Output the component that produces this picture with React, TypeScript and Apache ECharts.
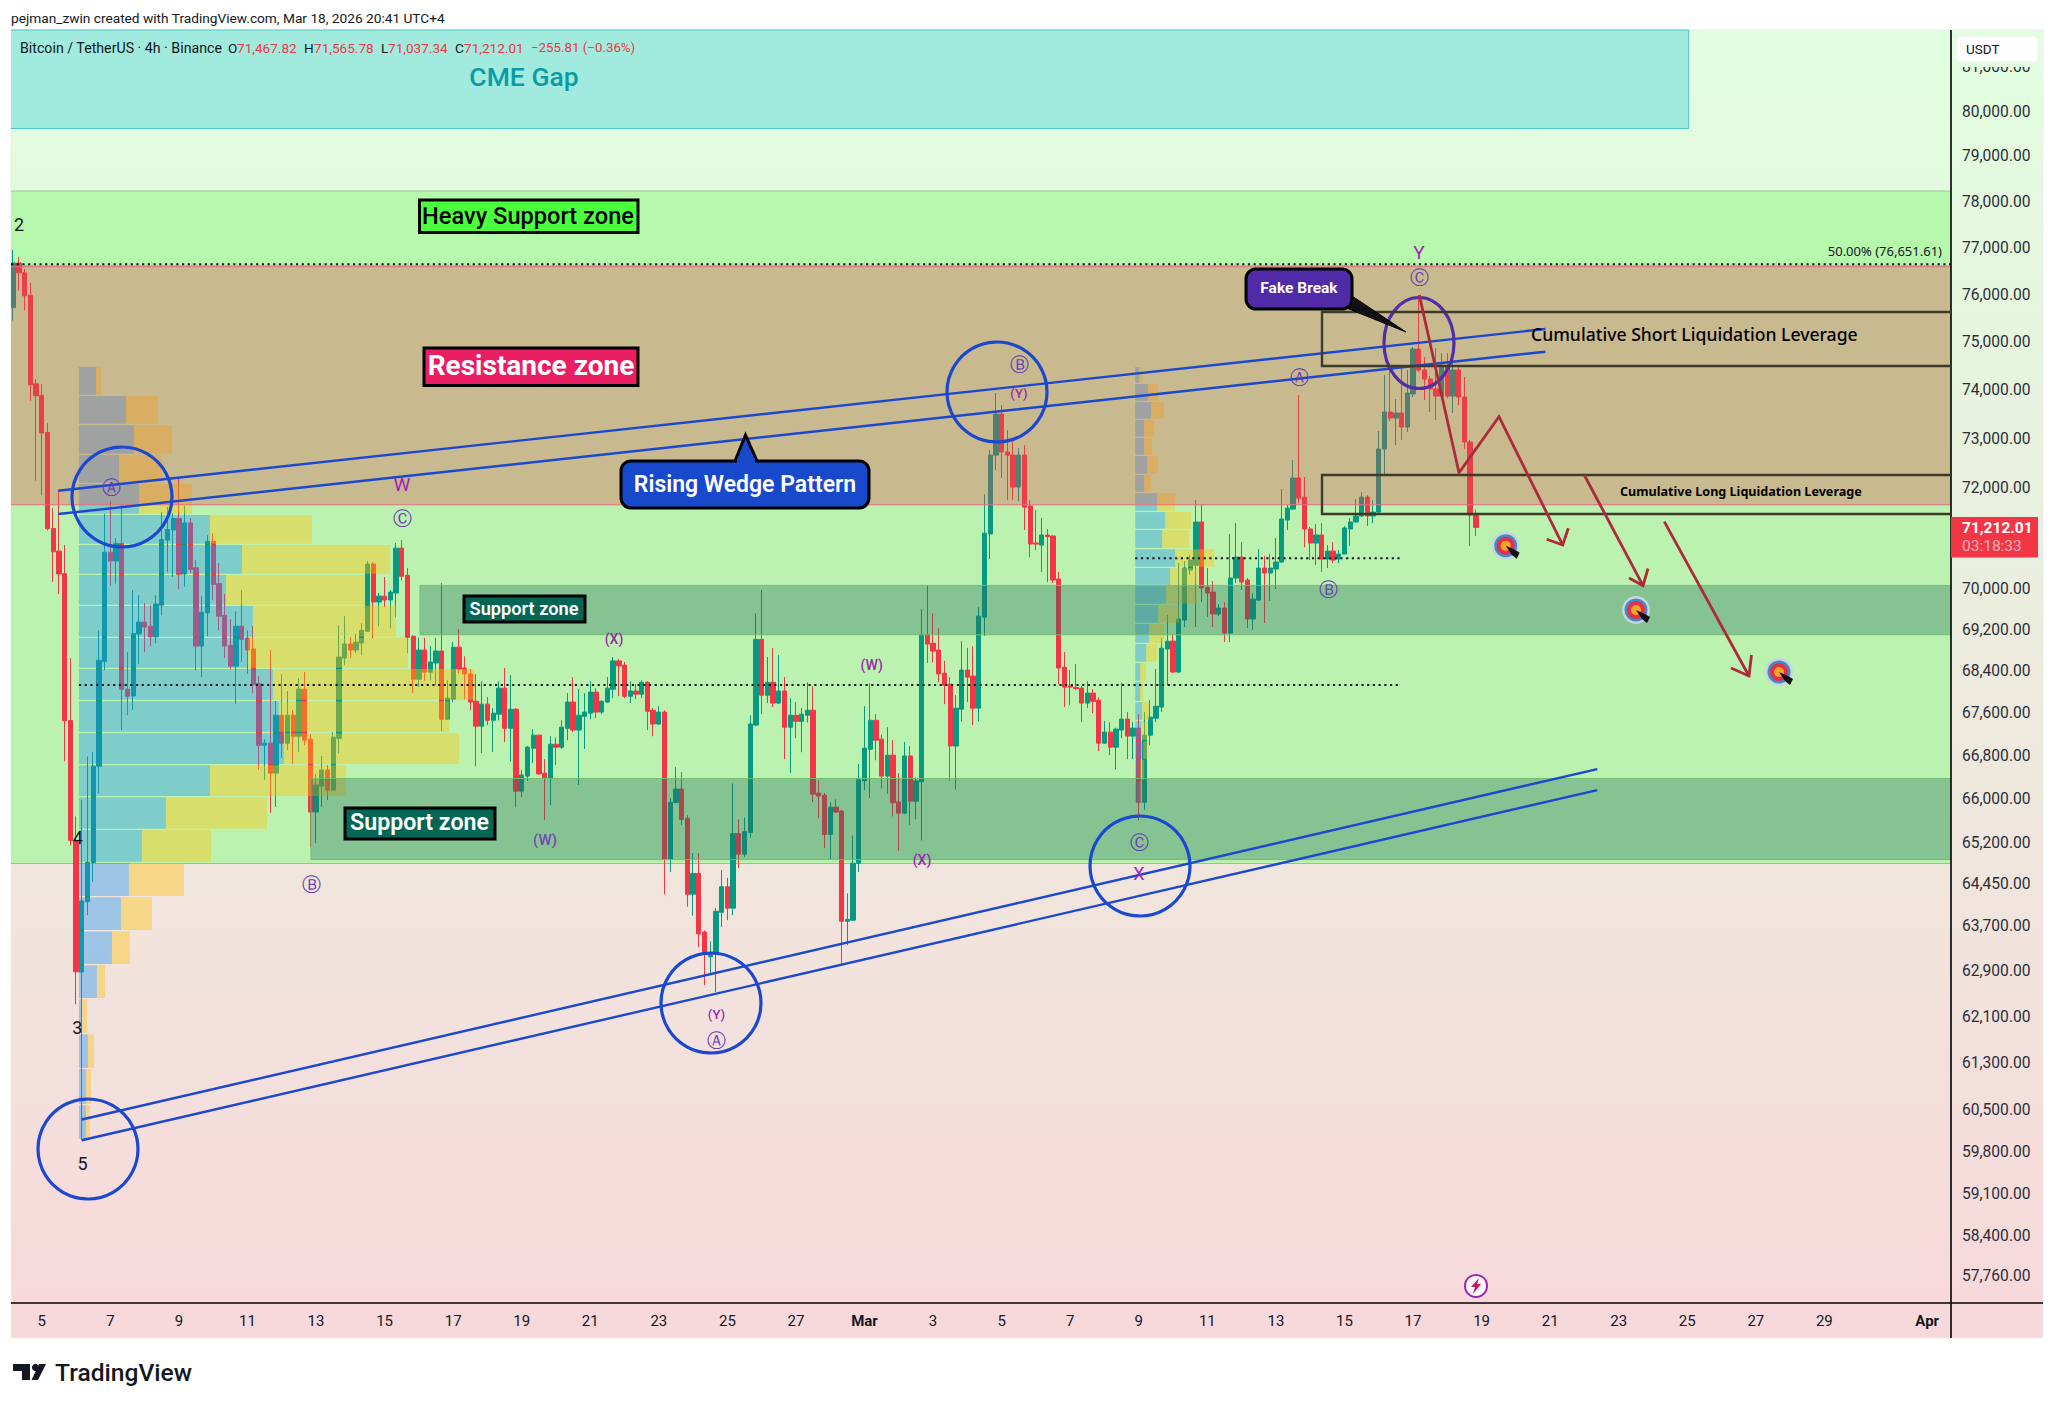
import React, { useEffect, useRef } from "react";
import * as echarts from "echarts";

// ---------- time helpers (candle time is the chart's own clock) ----------
const T = (m: number, d: number, h = 0, min = 0) => Date.UTC(2026, m - 1, d, h, min);
const FOUR_HOURS = 4 * 3600 * 1000;
const firstCandle = T(2, 4, 4);
const axisStart = T(2, 4, 2, 26);
const axisEnd = T(4, 1, 16, 39);

// ---------- candles: open, high, low, close ----------
const candlesEarlyFeb = [
[75730,76960,75450,76680],[76680,76810,76090,76470],[76470,76560,75670,75980],[75990,76260,73780,74113],[74130,74230,72148,73885],
[73890,74130,71857,73120],[73130,73320,71150,71185],[71190,71597,70137,70727],[70740,71945,69895,70290],[70295,70860,66700,67460],
[67465,68650,65150,65240],[65240,65680,62315,62884],[62880,65990,59990,64145],[64130,66790,63890,64840],[64840,66870,64490,66610],
[66610,69185,66110,68610],[68590,71480,68420,70720],[70720,71737,70060,70545],[70545,71000,70100,70890],[70890,71680,67285,68061],
[68060,68770,67565,67927],[67930,69970,67660,69125],[69120,69875,68540,69350],[69350,69720,68770,69255],[69270,69680,68880,69065],
[69065,69875,68940,69700],[69680,71520,69480,70970],[70960,71620,70330,71170],[71160,71500,70230,71390],[71390,72220,69990,70285],
[70290,71650,70040,71300],[71300,71400,70310,70380],[70410,70570,68410,68885],[68885,69855,68290,69540],[69530,71055,69080,70935],
[70935,71095,69780,70085],[70100,70505,69190,69465],[69480,69895,68655,68885],[68900,69405,68445,68500],[68500,69560,67775,69270],
[69270,69970,68580,69015],[69040,69190,68350,68810],[68830,69270,67985,68155],[68170,68310,66540,67000],[67000,67115,66355,67040],
[67040,68810,65745,66480],[66480,67835,65855,67565],[67565,68350,66760,67040],[67040,68025,66910,67565],[67565,67660,66650,67170],
[67170,68270,66870,68060],[68060,68385,67000,67095],[67115,67210,65115,65760],[65760,66465,65190,66260],[66240,66800,65855,66540],
[66540,66630,65980,66165],[66165,67245,66165,67150],[67130,69290,66850,68675],[68655,69465,68520,68925],[68925,69055,68655,68810],
[68810,69115,68750,68960],[68945,69330,68710,69190],[69170,70545,69170,70485],[70485,70525,69035,69740],[69740,69915,69270,69855],
[69855,70230,69640,69780],[69780,69975,69230,69935],[69915,70900,69445,70800],[70800,70960,70165,70245],[70265,70405,68750,69055],
[69075,69095,67985,68250],[68250,69045,68105,68810],[68810,69045,68220,68385],[68385,68885,68230,68580],[68560,69045,68135,68790],
[68790,70110,67265,67490],[67490,68230,67480,67890],[67870,68965,67815,68865],[68865,69210,68365,68445],[68465,68690,67875,68350],
[68350,68445,67660,67815],[67830,68350,66610,67360],[67360,68210,66855,67775],[67775,67910,67380,67470],[67470,67700,66875,67605],
];
const candlesLateFeb = [
[67585,68210,67470,68080],[68080,68465,67060,67320],[67320,68330,66700,67680],[67680,67700,65850,66145],[66145,66540,66035,66445],
[66425,66985,66335,66965],[66945,67305,66670,67190],[67190,67200,66450,66465],[66480,66740,65610,66390],[66390,67170,65885,67020],
[67020,67150,66630,66965],[66965,67470,66930,67340],[67320,67985,67095,67815],[67815,68290,67245,67285],[67285,68060,66260,67565],
[67545,67985,66930,67625],[67605,68210,67490,68005],[68005,68080,67510,67625],[67625,67850,67585,67830],[67815,68290,67795,68080],
[68060,68675,67890,68600],[68600,68640,67930,68505],[68520,68580,67890,67925],[67925,68210,67795,68025],[68025,68155,67870,67965],
[67965,68230,67890,68190],[68190,68210,67285,67640],[67660,67700,67170,67400],[67400,67735,67380,67625],[67625,67660,64260,64900],
[64900,66015,64665,65940],[65940,66590,65920,66185],[66185,66500,65520,65625],[65645,65700,64040,64265],[64265,65010,63880,64640],
[64640,65010,63320,63555],[63590,63620,62650,63220],[63150,63425,62820,63190],[63210,64015,62530,63960],[63940,64700,63680,64400],
[64400,64560,63800,64015],[64015,66290,63890,65365],[65365,65625,64740,64990],[64990,65660,64935,65400],[65385,67565,65290,67400],
[67380,69520,67360,69015],[69015,69975,67585,67945],[67945,68675,67795,68190],[68190,68845,67720,67795],[67795,68710,67780,68025],
[68025,68290,66740,67340],[67340,67890,66480,67565],[67565,67815,67130,67450],[67450,67700,66870,67585],[67565,68190,67430,67660],
[67660,68115,65945,66090],[66110,66345,65645,66055],[66070,66110,65100,65350],[65350,65945,64900,65850],[65850,65995,65740,65760],
[65780,65800,63020,63780],[63780,64280,63355,63815],[63800,65330,63800,64825],[64825,66650,64665,66355],[66335,67735,66165,66945],
[66925,68170,66015,67470],[67470,67585,66720,67095],[67115,67200,66195,66425],[66425,67340,66100,66815],[66815,67095,65680,65930],
[65945,66480,65050,65740],[65740,67060,65720,66800],[66800,66985,65520,65960],[65960,66400,65625,66335],[66320,69600,65240,69105],
[69105,70070,68560,68925],[68940,69520,68570,68790],[68810,69230,68190,68350],[68365,68600,67775,68135],[68155,68290,66340,66985],
[66985,67945,66175,67700],[67680,68980,67450,68425],[68425,68850,67815,68290],[68310,68885,67380,67700],[67700,69640,67450,69465],
[69445,71875,69080,71095],
];
const candlesMarch = [
[71080,72770,70584,72667],[72667,73940,72364,73507],[73507,73690,72200,72730],[72730,73180,71757,72667],[72667,72974,71757,72020],
[72020,72810,71737,72667],[72667,72870,71160,71618],[71640,71757,70620,70880],[70900,71558,70761,70880],[70860,71400,70330,71060],
[71060,71180,70130,71030],[71040,71060,70110,70171],[70190,70330,68157,68465],[68480,68770,67720,68100],[68120,68425,67755,68100],
[68090,68540,68040,68070],[68080,68120,67436,67795],[67795,68210,67700,67985],[67985,68060,67605,67830],[67851,67908,66890,67040],
[67040,67455,67030,67247],[67247,67436,66815,66965],[66965,67330,66550,67304],[67285,68177,67135,67493],[67493,67624,66740,67172],
[67172,67436,66740,67323],[67323,67587,65610,65940],[65940,67624,65800,67190],[67190,67851,67000,67530],[67510,68445,67436,67735],
[67720,69040,67624,68845],[68830,69487,68138,68980],[68980,69118,68367,68387],[68387,70505,68367,69410],[69390,70545,69254,70407],
[70367,70660,70270,70564],[70460,71757,69254,71320],[71320,71677,69740,70014],[70030,70406,69448,69915],[69935,70150,69254,69506],
[69506,69700,69467,69623],[69623,69740,68962,69137],[69137,71080,68962,70210],[70210,71300,70110,70622],[70622,70920,69975,70130],
[70171,70210,69235,69410],[69410,69915,69196,69797],[69778,70780,69760,70406],[70406,70642,69332,70308],[70308,70682,69760,70406],
[70387,71000,69995,70525],[70525,71980,70505,71379],[71359,71658,71160,71598],[71578,72566,71558,72202],[72202,73897,71697,71797],
[71817,72222,70820,71180],[71180,71220,70564,70900],[70900,71280,70466,71060],[71060,71300,70328,70584],[70584,70860,70406,70741],
[70741,70920,70505,70564],[70584,70761,70505,70682],[70682,71240,70682,71200],[71180,71399,70840,71320],[71320,71777,71300,71439],
[71439,71918,71419,71817],[71817,71858,71240,71439],[71439,71757,71300,71518],[71518,73159,71478,72790],[72790,74313,72263,73548],
[73548,74563,73364,73425],[73425,73815,72871,73528],[73528,74459,72974,73240],[73240,74417,73138,73940],[73920,74898,73856,74856],
[74856,75995,74375,74417],[74417,74688,73794,74230],[74230,74292,73548,74023],[74023,74877,73384,73877],[73877,74772,73835,74500],
[74500,74772,73835,73877],[73877,74646,73528,74417],[74417,74480,73692,73856],[73856,74272,72790,72933],[72933,72974,70840,71458],
[71467.82,71565.78,71037.34,71212.01],
];

// ---------- axis ticks ----------
const priceTicks = [81000,80000,79000,78000,77000,76000,75000,74000,73000,72000,70000,69200,68400,67600,66800,66000,65200,64450,63700,62900,62100,61300,60500,59800,59100,58400,57760];
const febDays = [5,7,9,11,13,15,17,19,21,23,25,27];
const marDays = [3,5,7,9,11,13,15,17,19,21,23,25,27,29];

// ---------- zones: from, to, top price, bottom price ----------
const cmeGap = [[axisStart, T(3, 25, 1), 81846, 79620]];
const heavySupport = [[axisStart, axisEnd, 78240, 76620]];
const supportArea = [[axisStart, axisEnd, 76620, 64820]];
const resistanceZone = [[axisStart, axisEnd, 76600, 71664]];
const supportUpper = [[T(2, 16, 0, 45), axisEnd, 70065, 69105]];
const supportLower = [[T(2, 12, 20, 24), axisEnd, 66380, 64890]];

// ---------- volume profiles ----------
const leftProfileEdges = [74480,73877,73281,72667,72081,71458,70860,70269,69662,69040,68445,67832,67228,66627,66034,65429,64830,64210,63600,63000,62403,61793,61195,60580,59990];
const leftProfileUp = [17,47,55,40,60,131,163,147,174,169,194,200,205,131,87,63,50,42,33,18,3,9,7,7];
const leftProfileDown = [5,32,38,43,53,102,148,139,143,160,202,170,175,136,101,69,55,31,18,8,5,6,5,4];
const rightProfileEdges = [74480,74127,73753,73384,73015,72647,72263,71898,71518,71160,70780,70406,70053,69681,69312,68924,68560,68196,67813,67455,67078,66722,66327,65922];
const rightProfileUp = [4,13,16,9,9,12,9,22,30,27,40,35,31,23,14,11,5,5,7,6,8,5,4];
const rightProfileDown = [3,10,13,10,8,11,7,18,26,27,39,28,31,21,15,11,6,3,7,6,5,4,3];
const leftProfileStart = T(2, 6, 2);
const rightProfileStart = T(3, 8, 21, 30);

// ---------- levels and trend lines: time, price, time, price ----------
const dottedLevels = [
  [axisStart, 76651.61, axisEnd, 76651.61],
  [leftProfileStart, 68138, T(3, 16, 15, 30), 68138],
  [rightProfileStart, 70600, T(3, 16, 15, 30), 70600],
];
const wedgeLines = [
  [T(2, 5, 11, 30), 71945, T(3, 20, 20, 40), 75277],
  [T(2, 5, 11, 30), 71478, T(3, 20, 20, 40), 74800],
  [T(2, 6, 4), 60339, T(3, 22, 9), 66555],
  [T(2, 6, 4), 59990, T(3, 22, 9), 66165],
];

const FONT = "Roboto, 'Noto Sans', sans-serif";
const UP = "#089981";
const DOWN = "#f23645";

function bandSeries(rows: number[][], fill: string, stroke: string | null, z: number) {
  return {
    type: "custom", z, silent: true, data: rows, encode: { x: [0, 1], y: [2, 3] },
    renderItem: (_: any, api: any) => {
      const a = api.coord([api.value(0), api.value(2)]);
      const b = api.coord([api.value(1), api.value(3)]);
      const children: any[] = [{ type: "rect", shape: { x: a[0], y: a[1], width: b[0] - a[0], height: b[1] - a[1] }, style: { fill } }];
      if (stroke) {
        children.push({ type: "line", shape: { x1: a[0], y1: a[1], x2: b[0], y2: a[1] }, style: { stroke, lineWidth: 1 } });
        children.push({ type: "line", shape: { x1: a[0], y1: b[1], x2: b[0], y2: b[1] }, style: { stroke, lineWidth: 1 } });
        if (api.value(1) < axisEnd) {
          children.push({ type: "line", shape: { x1: b[0], y1: a[1], x2: b[0], y2: b[1] }, style: { stroke, lineWidth: 1 } });
        }
        if (api.value(0) > axisStart) {
          children.push({ type: "line", shape: { x1: a[0], y1: a[1], x2: a[0], y2: b[1] }, style: { stroke, lineWidth: 1 } });
        }
      }
      return { type: "group", children };
    },
  };
}

function profileSeries(edges: number[], up: number[], down: number[], start: number) {
  const rows = up.map((u, i) => [start, edges[i], edges[i + 1], u, down[i]]);
  return {
    type: "custom", z: 4, silent: true, data: rows, encode: { x: 0, y: [1, 2] },
    renderItem: (_: any, api: any) => {
      const a = api.coord([api.value(0), api.value(1)]);
      const b = api.coord([api.value(0), api.value(2)]);
      const h = b[1] - a[1] - 1.3;
      return {
        type: "group",
        children: [
          { type: "rect", shape: { x: a[0], y: a[1], width: api.value(3), height: h }, style: { fill: "rgba(33,150,243,0.4)" } },
          { type: "rect", shape: { x: a[0] + api.value(3), y: a[1], width: api.value(4), height: h }, style: { fill: "rgba(255,193,7,0.4)" } },
        ],
      };
    },
  };
}

function lineSeries(rows: number[][], stroke: string, lineWidth: number, z: number, lineDash?: number[]) {
  return {
    type: "custom", z, silent: true, data: rows, encode: { x: [0, 2], y: [1, 3] },
    renderItem: (_: any, api: any) => {
      const a = api.coord([api.value(0), api.value(1)]);
      const b = api.coord([api.value(2), api.value(3)]);
      return { type: "line", shape: { x1: a[0], y1: a[1], x2: b[0], y2: b[1] }, style: { stroke, lineWidth, lineDash } };
    },
  };
}

// ---------- drawing annotations, placed on the page ----------
const txt = (text: string, x: number, y: number, size: number, fill: string, weight: any = 400, align = "center", family = FONT) => ({
  type: "text", z: 110, silent: true,
  style: { text, x, y, fill, fontSize: size, fontWeight: weight, fontFamily: family, align, verticalAlign: "middle", textAlign: align, textVerticalAlign: "middle" },
});
const ring = (cx: number, cy: number, r: number) => ({
  type: "circle", z: 100, silent: true, shape: { cx, cy, r }, style: { fill: "none", stroke: "#1c47cf", lineWidth: 3.2 },
});
const stroke = (points: number[][], color: string, lineWidth: number, z = 100) => ({
  type: "polyline", z, silent: true, shape: { points }, style: { fill: "none", stroke: color, lineWidth },
});
const box = (x: number, y: number, w: number, h: number, fill: string, r = 0) => ({
  type: "rect", z: 105, silent: true, shape: { x, y, width: w, height: h, r }, style: { fill, stroke: "#000", lineWidth: 3 },
});
const target = (x: number, y: number) => [
  { type: "circle", z: 102, silent: true, shape: { cx: x, cy: y, r: 14 }, style: { fill: "#c7d5df" } },
  { type: "circle", z: 102, silent: true, shape: { cx: x, cy: y, r: 11.5 }, style: { fill: "#3f8cc7" } },
  { type: "circle", z: 102, silent: true, shape: { cx: x, cy: y, r: 9 }, style: { fill: "#e5304a" } },
  { type: "circle", z: 102, silent: true, shape: { cx: x, cy: y, r: 5 }, style: { fill: "#f5a623" } },
  { type: "polygon", z: 103, silent: true, shape: { points: [[x, y], [x + 9, y + 4], [x + 14, y + 7], [x + 11, y + 13], [x + 6, y + 9]] }, style: { fill: "#111" } },
];

const WAVE = "#673ab7";
const MAGENTA = "#9c27b0";

const annotations: any[] = [
  { type: "rect", z: -5, silent: true, shape: { x: 11, y: 30, width: 2032, height: 1308 },
    style: { stroke: "#ececec", lineWidth: 1, fill: new echarts.graphic.LinearGradient(0, 0, 0, 1, [{ offset: 0, color: "#e1fee0" }, { offset: 1, color: "#f8d8db" }]) } },
  stroke([[1951, 30], [1951, 1338]], "#000", 1.6, 90),
  stroke([[11, 1303], [2043, 1303]], "#000", 1.6, 90),

  txt("pejman_zwin created with TradingView.com, Mar 18, 2026 20:41 UTC+4", 11, 18, 13.7, "#131722", 400, "left"),
  txt("Bitcoin / TetherUS · 4h · Binance", 20, 47.5, 14.2, "#131722", 400, "left"),
  txt("O", 228, 47.5, 13.6, "#131722", 400, "left"), txt("71,467.82", 237, 47.5, 13.6, DOWN, 400, "left"),
  txt("H", 304, 47.5, 13.6, "#131722", 400, "left"), txt("71,565.78", 314, 47.5, 13.6, DOWN, 400, "left"),
  txt("L", 381, 47.5, 13.6, "#131722", 400, "left"), txt("71,037.34", 388, 47.5, 13.6, DOWN, 400, "left"),
  txt("C", 455, 47.5, 13.6, "#131722", 400, "left"), txt("71,212.01", 464, 47.5, 13.6, DOWN, 400, "left"),
  txt("−255.81 (−0.36%)", 531, 47.5, 13.3, DOWN, 400, "left"),
  txt("CME Gap", 524, 76, 26.5, "#0e9aa5", 500),

  box(419.5, 200, 218.5, 32.5, "#4cff3d"), txt("Heavy Support zone", 528, 216, 23.6, "#000", 500),
  box(424, 348, 214, 37.5, "#e91e63"), txt("Resistance zone", 531, 365, 28, "#fff", 700),
  box(464, 596, 121, 26, "#056656"), txt("Support zone", 524, 608.5, 18.2, "#fff", 600),
  box(345, 808, 150, 31, "#056656"), txt("Support zone", 419.5, 822, 23.2, "#fff", 600),

  // Rising Wedge callout
  { type: "polygon", z: 105, silent: true, shape: { points: [[735, 461], [745.5, 435], [757, 461]] }, style: { fill: "#1848cc", stroke: "#000", lineWidth: 3 } },
  box(621, 461, 248, 47, "#1848cc", 10),
  { type: "rect", z: 106, silent: true, shape: { x: 737, y: 458, width: 18, height: 6 }, style: { fill: "#1848cc" } },
  txt("Rising Wedge Pattern", 745, 484, 23, "#fff", 600),

  // Fake Break callout
  { type: "polygon", z: 105, silent: true, shape: { points: [[1339, 305], [1406, 332], [1352, 296]] }, style: { fill: "#111", stroke: "#000", lineWidth: 1 } },
  box(1246, 269, 106, 40, "#4f2ba8", 10),
  txt("Fake Break", 1299, 288, 15.5, "#fff", 700),

  ring(122, 497, 50), ring(88, 1149, 50), ring(711, 1003, 50), ring(1140, 866, 50), ring(997, 392, 50),
  { type: "ellipse", z: 100, silent: true, shape: { cx: 1419, cy: 343, rx: 35, ry: 45.5 }, style: { fill: "none", stroke: "#512da8", lineWidth: 3.2 } },

  // liquidation boxes
  stroke([[1951, 312], [1322, 312], [1322, 366], [1951, 366]], "#3f3b2c", 2.4),
  stroke([[1951, 475], [1322, 475], [1322, 514], [1951, 514]], "#3f3b2c", 2.4),
  txt("Cumulative Short Liquidation Leverage", 1531, 334, 17.6, "#000", 500, "left", "'Noto Sans', sans-serif"),
  txt("Cumulative Long Liquidation Leverage", 1620, 491, 12.6, "#000", 700, "left", "'Noto Sans', sans-serif"),
  txt("50.00% (76,651.61)", 1942, 251, 13, "#131722", 400, "right", "'Noto Sans', sans-serif"),

  // projected path arrows
  stroke([[1419.3, 295], [1459, 472.7], [1499, 416.7], [1562.7, 545]], "#ad2a3a", 2.8),
  stroke([[1546.7, 539.3], [1562.7, 545], [1568.3, 528.3]], "#ad2a3a", 2.8),
  stroke([[1584.3, 475], [1643, 585.6]], "#ad2a3a", 2.8),
  stroke([[1629, 578], [1643, 585.6], [1648, 568.5]], "#ad2a3a", 2.8),
  stroke([[1664.3, 521.7], [1749, 676]], "#ad2a3a", 2.8),
  stroke([[1731, 668], [1749, 676], [1751.5, 655]], "#ad2a3a", 2.8),

  ...target(1505.7, 545.7), ...target(1636, 610), ...target(1779, 672),

  // bolt badge
  { type: "circle", z: 102, silent: true, shape: { cx: 1476, cy: 1286, r: 11 }, style: { fill: "#fdf6fb", stroke: MAGENTA, lineWidth: 2 } },
  { type: "polygon", z: 103, silent: true, shape: { points: [[1479, 1278], [1471, 1287], [1475, 1287], [1473, 1294], [1481, 1284], [1477, 1284]] }, style: { fill: "#c2185b" } },

  // wave labels
  txt("W", 402, 484, 19, MAGENTA),
  txt("Ⓐ", 111, 487, 19, WAVE, 400, "center", "'DejaVu Sans', sans-serif"),
  txt("Ⓒ", 402, 518, 19, WAVE, 400, "center", "'DejaVu Sans', sans-serif"),
  txt("Ⓑ", 311, 884, 19, WAVE, 400, "center", "'DejaVu Sans', sans-serif"),
  txt("(W)", 545, 840, 15, "#6f4bb0", 500),
  txt("(X)", 614, 639, 14, MAGENTA, 500),
  txt("(Y)", 716.5, 1014, 13, MAGENTA, 500),
  txt("Ⓐ", 716.5, 1040, 19, WAVE, 400, "center", "'DejaVu Sans', sans-serif"),
  txt("(W)", 871.7, 665, 14, MAGENTA, 500),
  txt("(X)", 922, 860, 14, MAGENTA, 500),
  txt("Ⓒ", 1139, 842, 19, WAVE, 400, "center", "'DejaVu Sans', sans-serif"),
  txt("X", 1139, 873, 18, MAGENTA),
  txt("Ⓑ", 1019, 364, 19, WAVE, 400, "center", "'DejaVu Sans', sans-serif"),
  txt("(Y)", 1019, 393, 13, MAGENTA, 500),
  txt("Ⓐ", 1299, 377, 19, WAVE, 400, "center", "'DejaVu Sans', sans-serif"),
  txt("Ⓑ", 1328, 589, 19, WAVE, 400, "center", "'DejaVu Sans', sans-serif"),
  txt("Y", 1419, 252.7, 19, MAGENTA),
  txt("Ⓒ", 1419, 277, 19, WAVE, 400, "center", "'DejaVu Sans', sans-serif"),
  txt("2", 19, 224, 18, "#131722"),
  txt("4", 77.7, 837, 18, "#131722"),
  txt("3", 77.3, 1027, 18, "#131722"),
  txt("5", 82.5, 1163, 18, "#131722"),

  // currency button (with the strip that hides the top of the clipped tick) and last price tag
  { type: "rect", z: 119, silent: true, shape: { x: 1952, y: 31, width: 90, height: 36 }, style: { fill: "#e2fde0" } },
  { type: "rect", z: 120, silent: true, shape: { x: 1956, y: 36, width: 82, height: 26, r: 5 }, style: { fill: "#fff", stroke: "#eef3ee", lineWidth: 1 } },
  { ...txt("USDT", 1966, 49, 13.5, "#131722", 400, "left"), z: 121 },
  { type: "rect", z: 120, silent: true, shape: { x: 1951, y: 517, width: 87, height: 40.5 }, style: { fill: DOWN } },
  { ...txt("71,212.01", 1962, 528, 15.5, "#fff", 700, "left"), z: 121 },
  { ...txt("03:18:33", 1962, 546, 15.5, "#ffb2b9", 400, "left"), z: 121 },

  // footer logo
  { type: "polygon", z: 110, silent: true, shape: { points: [[13, 1364], [30, 1364], [30, 1380], [22, 1380], [22, 1371], [13, 1371]] }, style: { fill: "#131722" } },
  { type: "circle", z: 110, silent: true, shape: { cx: 35.5, cy: 1367.5, r: 3.6 }, style: { fill: "#131722" } },
  { type: "polygon", z: 110, silent: true, shape: { points: [[38, 1380], [31.5, 1380], [39, 1364], [46, 1364]] }, style: { fill: "#131722" } },
  txt("TradingView", 55, 1372.5, 24.6, "#131722", 500, "left"),
];

export default function App() {
  const ref = useRef<HTMLDivElement>(null);
  useEffect(() => {
    const chart = echarts.init(ref.current!, null, { renderer: "svg" });
    const rows = [...candlesEarlyFeb, ...candlesLateFeb, ...candlesMarch];
    const candles = rows.map(([o, h, l, c], i) => [firstCandle + i * FOUR_HOURS, o, c, l, h]);
    const dayValues = [...febDays.map((d) => T(2, d)), T(3, 1), ...marDays.map((d) => T(3, d)), T(4, 1)];
    const dayLabel = (v: number) => {
      const dt = new Date(v);
      if (dt.getUTCDate() === 1) return dt.getUTCMonth() === 2 ? "{b|Mar}" : "{b|Apr}";
      return String(dt.getUTCDate());
    };
    chart.setOption({
      animation: false,
      grid: { left: 11, top: 30, width: 1940, height: 1273, containLabel: false },
      xAxis: {
        type: "value", min: axisStart, max: axisEnd, scale: true, splitLine: { show: false },
        axisLine: { show: false }, axisTick: { show: false },
        axisLabel: {
          customValues: dayValues, formatter: (v: number) => dayLabel(v), color: "#131722", fontSize: 15, fontFamily: FONT, margin: 10,
          hideOverlap: false, showMinLabel: true, showMaxLabel: true,
          rich: { b: { fontWeight: 700, fontSize: 15, fontFamily: FONT, color: "#131722" } },
        },
      },
      yAxis: {
        type: "log", logBase: 10, min: 57319, max: 81846, position: "right", splitLine: { show: false },
        axisLine: { show: false }, axisTick: { show: false }, axisLabel: { show: false },
      },
      graphic: { elements: annotations },
      series: [
        bandSeries(heavySupport, "#b6f9ad", "#8fcf8d", 1),
        bandSeries(supportArea, "#bcf2af", "#8cc98b", 1),
        bandSeries(cmeGap, "#a0ebdd", "#52c6c4", 1),
        {
          type: "candlestick", z: 3, silent: true, data: candles, encode: { x: 0, y: [1, 2, 3, 4] }, barWidth: 4.8,
          itemStyle: { color: UP, borderColor: UP, color0: DOWN, borderColor0: DOWN, borderWidth: 1 },
        },
        profileSeries(leftProfileEdges, leftProfileUp, leftProfileDown, leftProfileStart),
        profileSeries(rightProfileEdges, rightProfileUp, rightProfileDown, rightProfileStart),
        bandSeries(resistanceZone, "rgba(223,80,78,0.34)", "#e96b80", 5),
        bandSeries(supportUpper, "rgba(34,110,92,0.35)", "rgba(110,190,110,0.9)", 5),
        bandSeries(supportLower, "rgba(34,110,92,0.35)", "rgba(110,190,110,0.9)", 5),
        lineSeries(dottedLevels, "#131722", 2, 6, [2.2, 3.5]),
        lineSeries(wedgeLines, "#1c47cf", 2.4, 6),
        {
          type: "custom", z: 8, silent: true, data: priceTicks.map((p) => [axisEnd, p]), encode: { x: 0, y: 1 },
          renderItem: (_: any, api: any) => {
            const pt = api.coord([api.value(0), api.value(1)]);
            return {
              type: "text", x: pt[0] + 11, y: pt[1],
              style: {
                text: api.value(1).toLocaleString("en-US", { minimumFractionDigits: 2, maximumFractionDigits: 2 }),
                fill: "#2a2e39", fontSize: 15.6, fontFamily: FONT, align: "left", verticalAlign: "middle", textAlign: "left", textVerticalAlign: "middle",
              },
            };
          },
        },
      ],
    });
    return () => chart.dispose();
  }, []);
  return <div ref={ref} style={{ position: "absolute", left: 0, top: 0, width: 2054, height: 1406, background: "#fff" }} />;
}
